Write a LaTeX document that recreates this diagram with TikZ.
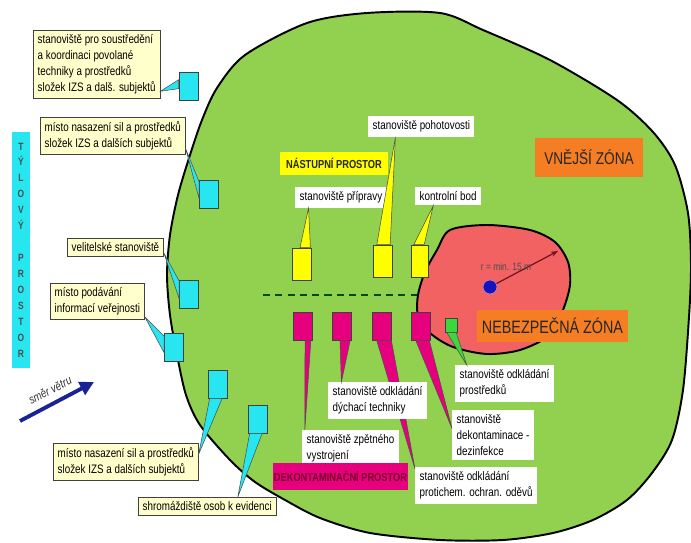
\documentclass[tikz,border=0pt]{standalone}
\usepackage{fontspec}
\setmainfont{Liberation Sans}[FakeStretch=0.8]
\usetikzlibrary{arrows.meta}
\definecolor{zonegreen}{RGB}{146,208,80}
\definecolor{zonered}{RGB}{242,98,98}
\definecolor{zoneorange}{RGB}{245,125,35}
\definecolor{postyellow}{RGB}{255,255,0}
\definecolor{postpink}{RGB}{230,0,126}
\definecolor{postcyan}{RGB}{40,230,240}
\definecolor{postgreen}{RGB}{60,215,60}
\definecolor{notefill}{RGB}{255,255,204}
\definecolor{windblue}{RGB}{25,35,150}
\definecolor{dotblue}{RGB}{20,20,190}
\definecolor{radred}{RGB}{110,20,30}
\definecolor{dekred}{RGB}{120,0,40}
\newcommand{\spike}[4]{\filldraw[spike,fill=#1] (#2) -- (#3) -- (#4) -- cycle;}
\tikzset{
  note/.style={draw=black!75,fill=notefill,align=left,anchor=north west,inner sep=2.5pt,font=\fontsize{7}{9}\selectfont},
  wnote/.style={fill=white,align=left,anchor=north west,inner sep=2.5pt,font=\fontsize{7}{9}\selectfont},
  post/.style={draw=black!75,line width=0.5pt,minimum width=0.38cm,minimum height=0.56cm,inner sep=0pt},
  spike/.style={draw=black!70,line width=0.3pt},
  heading/.style={inner sep=0pt,font=\bfseries\fontsize{6.6}{8}\selectfont},
  zonename/.style={fill=zoneorange,inner sep=0pt,text=black!85},
}
\begin{document}
\begin{tikzpicture}[x=0.02cm,y=-0.02cm]
\useasboundingbox (0,0) rectangle (691,543);
\filldraw[fill=zonegreen,draw=black,line width=1.1pt] plot[smooth cycle] coordinates {
  (367,13) (440,13) (483,30) (550,60) (617,100) (653,132) (675,165) (688,213) (691,265)
  (689,317) (683,390) (672,440) (652,473) (627,500) (593,520) (553,533) (503,540) (440,540)
  (370,533) (320,518) (285,500) (255,482) (230,460) (200,425) (186,395) (177,355) (170,315)
  (167,275) (170,235) (178,195) (190,155) (202,120) (217,88) (245,55) (307,23)};
\filldraw[fill=zonered,draw=black,line width=1.1pt] plot[smooth cycle] coordinates {
  (450,230) (487,225) (530,230) (555,242) (568,262) (570,285) (563,310) (550,335)
  (520,350) (487,354) (453,347) (430,333) (418,315) (418,295) (425,272) (437,250)};
\coordinate (dashL) at (263,295);
\coordinate (dashR) at (417,295);
\draw[black!70!green,line width=1pt,dash pattern=on 4pt off 3pt] (dashL) -- (dashR);
\node[circle,fill=dotblue,draw=violet!50,minimum size=0.28cm,inner sep=0pt] (ctr) at (490,287) {};
\coordinate (rim) at (558,251);
\draw[radred,line width=0.7pt,-{Stealth[length=4pt]}] (ctr) -- (rim);
\node[font=\fontsize{6}{7}\selectfont,text=black!70] (rlab) at (506,267) {r = min. 15 m};

\node[post,fill=postcyan] (sA) at (188.5,86) {};
\node[post,fill=postcyan] (sB) at (209,194) {};
\node[post,fill=postcyan] (sC) at (189,294) {};
\node[post,fill=postcyan] (sD) at (174,347.5) {};
\node[post,fill=postcyan] (sE) at (218,384) {};
\node[post,fill=postcyan] (sF) at (258,419) {};
\node[post,fill=postyellow,minimum height=0.64cm] (y1) at (302,264) {};
\node[post,fill=postyellow,minimum height=0.64cm] (y2) at (382.5,261) {};
\node[post,fill=postyellow,minimum height=0.64cm,minimum width=0.34cm] (y3) at (419.5,261) {};
\node[post,fill=postpink] (p1) at (302.5,326) {};
\node[post,fill=postpink] (p2) at (341.5,326) {};
\node[post,fill=postpink] (p3) at (382,326) {};
\node[post,fill=postpink] (p4) at (421,326) {};
\node[post,fill=postgreen,minimum width=0.24cm,minimum height=0.28cm] (g1) at (451,325) {};

\node[note] (labA) at (33,30) {stanoviště pro soustředění\\a koordinaci povolané\\techniky a prostředků\\složek IZS a dalš. subjektů};
\node[note] (labB) at (40,117) {místo nasazení sil a prostředků\\složek IZS a dalších subjektů};
\node[note] (labC) at (67,238) {velitelské stanoviště};
\node[note] (labD) at (50,283) {místo podávání\\informací veřejnosti};
\node[note] (labE) at (53,443) {místo nasazení sil a prostředků\\složek IZS a dalších subjektů};
\node[note] (labF) at (138,497) {shromáždiště osob k evidenci};
\node[wnote] (labH) at (368,116) {stanoviště pohotovosti};
\node[wnote] (labP) at (295,187) {stanoviště přípravy};
\node[wnote] (labK) at (415,187) {kontrolní bod};
\node[wnote] (labS) at (455,365) {stanoviště odkládání\\prostředků};
\node[wnote] (labX) at (452,410) {stanoviště\\dekontaminace -\\dezinfekce};
\node[wnote] (labZ) at (302,430) {stanoviště zpětného\\vystrojení};
\node[wnote] (labO) at (415,467) {stanoviště odkládání\\protichem. ochran. oděvů};

\spike{postcyan}{sA.148}{sA.195}{labA.-23}
\spike{postcyan}{sB.129}{sB.204}{labB.-10}
\spike{postcyan}{sC.127}{sC.204}{labC.-7}
\spike{postcyan}{sD.131}{sD.207}{labD.-18}
\spike{postcyan}{sE.240}{sE.286}{labE.6}
\spike{postcyan}{sF.240}{sF.286}{labF.17}
\spike{postyellow}{y1.97}{y1.63}{labP.198}
\spike{postyellow}{y2.109}{y2.65}{labH.202}
\spike{postyellow}{y3.109}{y3.74}{labK.212}
\spike{postpink}{p1.280}{p1.300}{labZ.158}
\spike{postpink}{p3.250}{p3.303}{labO.165}
\node[wnote] (labT) at (328,382) {stanoviště odkládání\\dýchací techniky};
\spike{postpink}{p2.264}{p2.301}{labT.153}
\spike{postpink}{p4.250}{p4.300}{labX.171}
\spike{postgreen}{g1.240}{g1.305}{labS.154}

\node[heading,fill=postyellow,text=black!85,minimum width=2.16cm,minimum height=0.46cm] (nastup) at (334,163.5) {NÁSTUPNÍ PROSTOR};
\node[zonename,minimum width=2.16cm,minimum height=0.78cm,font=\fontsize{9.7}{11}\selectfont] (vnejsi) at (589,157.5) {VNĚJŠÍ ZÓNA};
\node[zonename,minimum width=3.02cm,minimum height=0.64cm,font=\fontsize{10.2}{12}\selectfont] (nebezp) at (552.5,326) {NEBEZPEČNÁ ZÓNA};
\node[heading,fill=postpink,text=dekred,minimum width=2.7cm,minimum height=0.54cm] (dekont) at (340.5,476.5) {DEKONTAMINAČNÍ PROSTOR};

\node[fill=postcyan,minimum width=0.36cm,minimum height=4.72cm,inner sep=0pt,align=center,text=black!70,font=\bfseries\fontsize{6}{9.07}\selectfont] (tylovy) at (21,250) {T\\Ý\\L\\O\\V\\Ý\\[9.07pt]P\\R\\O\\S\\T\\O\\R};

\coordinate (windA) at (20,421);
\coordinate (windB) at (94,382);
\draw[windblue,line width=2.2pt,-{Triangle[length=8pt,width=8pt]}] (windA) -- (windB);
\node[rotate=27,font=\itshape\fontsize{7}{8}\selectfont,text=black!80] (windlab) at (50,390) {směr větru};
\end{tikzpicture}
\end{document}
